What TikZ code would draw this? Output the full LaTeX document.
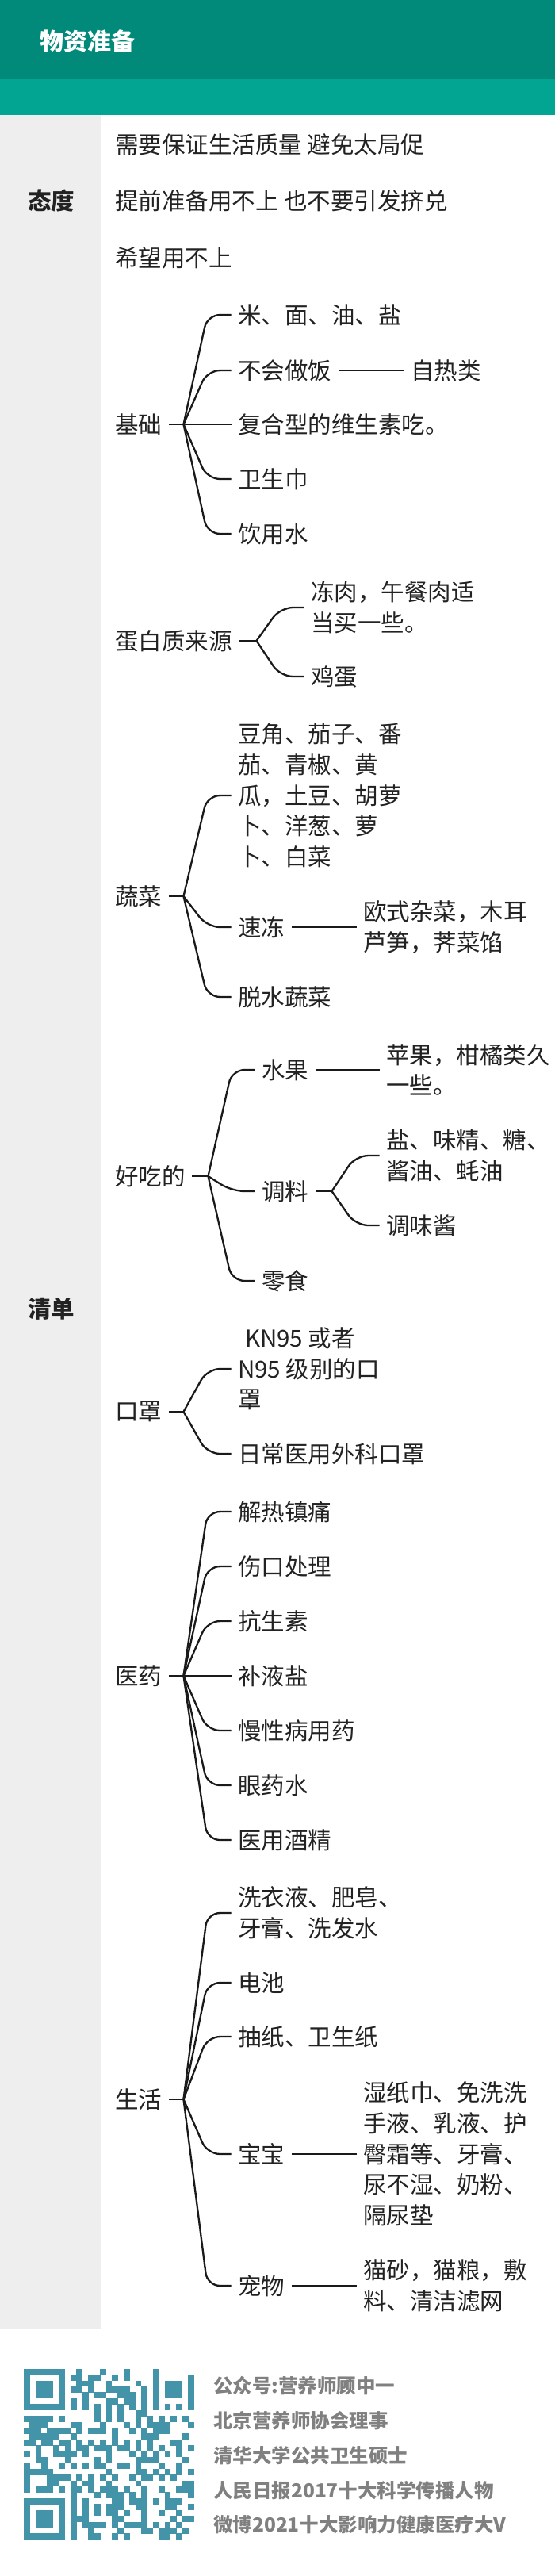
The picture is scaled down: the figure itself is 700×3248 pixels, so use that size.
\documentclass[tikz,border=0pt]{standalone}
\usepackage{fontspec}
\setmainfont{Noto Sans CJK SC}
\usetikzlibrary{calc}
\definecolor{hdr}{HTML}{01897A}
\definecolor{band}{HTML}{02A592}
\definecolor{bandline}{HTML}{2FB5A4}
\definecolor{graycol}{HTML}{EEEEEE}
\definecolor{textc}{HTML}{222222}
\definecolor{linec}{HTML}{1A1A1A}
\definecolor{qrc}{HTML}{4494A9}
\definecolor{footc}{HTML}{808080}
\newcommand\bodyfont{\fontsize{29.5}{38.7}\selectfont}
\newcommand\fan[3]{%
  \pgfmathsetmacro\kx{#2+30}%
  \coordinate (#1J) at (#1.east -| #2,0);
  \coordinate (#1K) at (#1.east -| \kx,0);
  \draw[conn] (#1.east) -- (#1J);
  \foreach \k in {#3} {\draw[conn, rounded corners=16pt] (#1J) -- (#1K |- \k.west) -- (\k.west);}
}
\newcommand\qrrow[2]{\foreach \c in {#2}{\fill[qrc] ({30+\c*7.41-0.2},{2987+#1*7.41-0.2}) rectangle ++(7.81,7.81);}}
\tikzset{
  txt/.style={anchor=west, inner xsep=8.5pt, inner ysep=0pt, font=\bodyfont, text=textc, align=left},
  lab/.style={anchor=west, inner sep=0pt, font=\bfseries\fontsize{29.5}{36}\selectfont, text=textc},
  ttl/.style={anchor=west, inner sep=0pt, font=\bfseries\fontsize{30}{36}\selectfont, text=white},
  foot/.style={anchor=west, inner sep=0pt, font=\bfseries\fontsize{24.5}{30}\selectfont, text=footc},
  conn/.style={draw=linec, line width=2.3pt},
}
\begin{document}
\begin{tikzpicture}[x=1pt, y=-1pt]
\useasboundingbox (0,0) rectangle (700,3248);
\fill[white] (0,0) rectangle (700,3248);
% header
\fill[hdr] (0,0) rectangle (700,99);
\fill[band] (0,99) rectangle (700,145);
\draw[bandline, line width=0.8pt] (127.5,99) -- (127.5,145);
\fill[graycol] (0,145) rectangle (128,2937);
\node[ttl] (title) at (50,52) {物资准备};
% row labels
\node[lab] (taidu) at (35,253) {态度};
\node[lab] (qingdan) at (35,1650) {清单};
% attitude
\node[txt] (a1) at (136.5,182) {需要保证生活质量 避免太局促};
\node[txt] (a2) at (136.5,253) {提前准备用不上 也不要引发挤兑};
\node[txt] (a3) at (136.5,325) {希望用不上};
% 基础
\node[txt] (jc) at (136.5,535) {基础};
\node[txt] (jc1) at (291.5,397) {米、面、油、盐};
\node[txt] (jc2) at (291.5,467) {不会做饭};
\node[txt] (jc2a) at (509.5,467) {自热类};
\node[txt] (jc3) at (291.5,535) {复合型的维生素吃。};
\node[txt] (jc4) at (291.5,604) {卫生巾};
\node[txt] (jc5) at (291.5,673) {饮用水};
\fan{jc}{231.5}{jc1,jc2,jc3,jc4,jc5}
\draw[conn] (jc2.east) -- (jc2a.west);
% 蛋白质来源
\node[txt] (db) at (136.5,808) {蛋白质来源};
\node[txt] (db1) at (383.5,766) {冻肉，午餐肉适\\当买一些。};
\node[txt] (db2) at (383.5,853) {鸡蛋};
\fan{db}{323.5}{db1,db2}
% 蔬菜
\node[txt] (sc) at (136.5,1130) {蔬菜};
\node[txt] (sc1) at (291.5,1003) {豆角、茄子、番\\茄、青椒、黄\\瓜，土豆、胡萝\\卜、洋葱、萝\\卜、白菜};
\node[txt] (sc2) at (291.5,1169) {速冻};
\node[txt] (sc2a) at (449.5,1169) {欧式杂菜，木耳\\芦笋，荠菜馅};
\node[txt] (sc3) at (291.5,1257) {脱水蔬菜};
\fan{sc}{231.5}{sc1,sc2,sc3}
\draw[conn] (sc2.east) -- (sc2a.west);
% 好吃的
\node[txt] (hc) at (136.5,1483) {好吃的};
\node[txt] (hc1) at (321.5,1349) {水果};
\node[txt] (hc1a) at (478.5,1349) {苹果，柑橘类久\\一些。};
\node[txt] (hc2) at (321.5,1502) {调料};
\node[txt] (hc2a) at (478.5,1457) {盐、味精、糖、\\酱油、蚝油};
\node[txt] (hc2b) at (478.5,1545) {调味酱};
\node[txt] (hc3) at (321.5,1615) {零食};
\fan{hc}{262.5}{hc1,hc2,hc3}
\draw[conn] (hc1.east) -- (hc1a.west);
\fan{hc2}{418.5}{hc2a,hc2b}
% 口罩
\node[txt] (kz) at (136.5,1780) {口罩};
\node[txt] (kz1) at (291.5,1726) {\hspace*{9pt}KN95 或者\\N95 级别的口\\罩};
\node[txt] (kz2) at (291.5,1833) {日常医用外科口罩};
\fan{kz}{231.5}{kz1,kz2}
% 医药
\node[txt] (yy) at (136.5,2113) {医药};
\node[txt] (yy1) at (291.5,1906) {解热镇痛};
\node[txt] (yy2) at (291.5,1975) {伤口处理};
\node[txt] (yy3) at (291.5,2044) {抗生素};
\node[txt] (yy4) at (291.5,2113) {补液盐};
\node[txt] (yy5) at (291.5,2182) {慢性病用药};
\node[txt] (yy6) at (291.5,2251) {眼药水};
\node[txt] (yy7) at (291.5,2320) {医用酒精};
\fan{yy}{231.5}{yy1,yy2,yy3,yy4,yy5,yy6,yy7}
% 生活
\node[txt] (sh) at (136.5,2647) {生活};
\node[txt] (sh1) at (291.5,2412) {洗衣液、肥皂、\\牙膏、洗发水};
\node[txt] (sh2) at (291.5,2500) {电池};
\node[txt] (sh3) at (291.5,2568) {抽纸、卫生纸};
\node[txt] (sh4) at (291.5,2716) {宝宝};
\node[txt] (sh4a) at (449.5,2716) {湿纸巾、免洗洗\\手液、乳液、护\\臀霜等、牙膏、\\尿不湿、奶粉、\\隔尿垫};
\node[txt] (sh5) at (291.5,2882) {宠物};
\node[txt] (sh5a) at (449.5,2882) {猫砂，猫粮，敷\\料、清洁滤网};
\fan{sh}{231.5}{sh1,sh2,sh3,sh4,sh5}
\draw[conn] (sh4.east) -- (sh4a.west);
\draw[conn] (sh5.east) -- (sh5a.west);
% QR code
\qrrow{0}{0,...,6,9,13,...,19,22,...,28}
\qrrow{1}{0,6,8,9,11,12,15,17,22,28}
\qrrow{2}{0,2,3,4,6,9,10,11,14,19,22,24,25,26,28}
\qrrow{3}{0,2,3,4,6,8,9,11,14,15,16,17,20,22,24,25,26,28}
\qrrow{4}{0,2,3,4,6,10,12,13,16,17,18,20,22,24,25,26,28}
\qrrow{5}{0,6,8,10,14,15,17,18,20,22,28}
\qrrow{6}{0,...,6,8,10,12,14,16,18,20,22,...,28}
\qrrow{7}{12,14,16,19,20}
\qrrow{8}{0,...,4,6,...,10,12,14,...,17,19,21,23,25,27}
\qrrow{9}{1,2,3,8,9,13,17,19,21,22,23,24,28}
\qrrow{10}{0,1,2,4,5,6,7,9,11,12,13,15,18,20,22,23,24}
\qrrow{11}{1,...,5,8,...,11,15,20,21,22,27}
\qrrow{12}{0,1,3,4,6,7,9,11,13,15,...,19,21,25,26}
\qrrow{13}{2,5,7,9,10,12,13,14,16,17,19,...,24,26,28}
\qrrow{14}{0,2,5,6,7,8,10,14,18,20,22,24,26}
\qrrow{15}{2,3,7,12,14,19,20,21,22,27}
\qrrow{16}{0,3,6,8,10,12,13,16,17,19,23,26}
\qrrow{17}{0,...,4,14,...,17,19,20,22,...,26,28}
\qrrow{18}{0,4,5,6,7,9,...,13,15,18,20,21,23,...,26}
\qrrow{19}{0,4,5,8,10,11,14,19,27,28}
\qrrow{20}{0,2,3,4,6,8,9,11,13,14,15,17,20,...,24,26,27,28}
\qrrow{21}{8,12,14,15,16,18,20,24,...,28}
\qrrow{22}{0,...,6,8,10,15,16,18,19,20,22,24,25,26}
\qrrow{23}{0,6,8,10,12,14,15,16,19,20,24,25,28}
\qrrow{24}{0,2,3,4,6,8,10,12,14,15,17,20,...,28}
\qrrow{25}{0,2,3,4,6,8,9,10,15,16,20,25,27,28}
\qrrow{26}{0,2,3,4,6,8,10,11,12,13,15,17,18,19,20,22,...,27}
\qrrow{27}{0,6,8,11,16,20,21,23,24,25,27}
\qrrow{28}{0,...,6,8,11,12,15,17,23,24,26}
% footer text
\node[foot] (f1) at (269,3008) {公众号:营养师顾中一};
\node[foot] (f2) at (269,3052) {北京营养师协会理事};
\node[foot] (f3) at (269,3096) {清华大学公共卫生硕士};
\node[foot] (f4) at (269,3140) {人民日报2017十大科学传播人物};
\node[foot] (f5) at (269,3183) {微博2021十大影响力健康医疗大V};
\end{tikzpicture}
\end{document}
